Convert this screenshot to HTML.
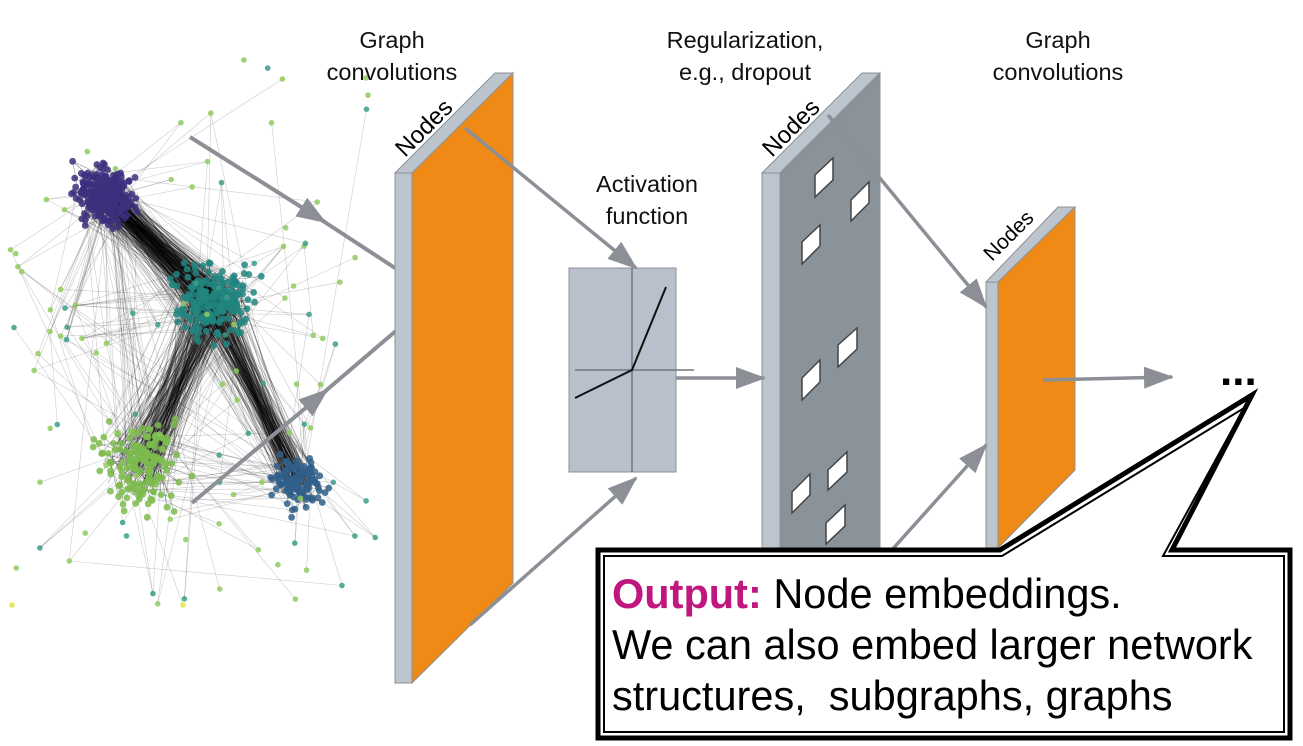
<!DOCTYPE html>
<html><head><meta charset="utf-8"><style>
html,body{margin:0;padding:0;background:#fff;}
body{width:1303px;height:746px;position:relative;overflow:hidden;font-family:"Liberation Sans",sans-serif;}
.t{position:absolute;font-size:23.5px;color:#111;text-align:center;line-height:32px;}
</style></head><body>
<svg id="s" width="1303" height="746" style="position:absolute;left:0;top:0">
<g id="net"></g>
<defs>
<marker id="ah2" markerWidth="30" markerHeight="22" refX="28" refY="11" orient="auto" markerUnits="userSpaceOnUse"><path d="M0,0 L30,11 L0,22 z" fill="#8c9096"/></marker></defs>
<g stroke="#8c9096" stroke-width="4" fill="none">
<line x1="190" y1="137" x2="325" y2="222" marker-end="url(#ah2)"/><line x1="320" y1="219" x2="395" y2="268"/>
<line x1="192" y1="503" x2="327" y2="390" marker-end="url(#ah2)"/><line x1="322" y1="394" x2="397" y2="330"/>
</g>
<polygon points="395,173 495,73 513,73 412,173" fill="#bcc4ce" stroke="#8c9096" stroke-width="1"/>
<polygon points="395,173 412,173 412,683 395,683" fill="#bcc4ce" stroke="#8c9096" stroke-width="1"/>
<polygon points="412,173 513,73 513,583 412,683" fill="#ef8a17" stroke="#8c9096" stroke-width="1"/>
<text x="0" y="0" font-size="24" transform="translate(405,158) rotate(-45)" font-family="Liberation Sans">Nodes</text>
<polygon points="762,173 862,73 880,73 780,173" fill="#bcc4ce" stroke="#8c9096"/>
<polygon points="762,173 780,173 780,600 762,600" fill="#bcc4ce" stroke="#8c9096"/>
<polygon points="780,173 880,73 880,600 780,600" fill="#8a9399" stroke="#8c9096"/>
<text transform="translate(772,158) rotate(-45)" font-size="24" font-family="Liberation Sans">Nodes</text>
<g fill="#fff" stroke="#444" stroke-width="1.5">
<polygon points="815,175 833,158 833,180 815,197"/>
<polygon points="851,200 869,182 869,203 851,221"/>
<polygon points="802,242 820,225 820,246 802,264"/>
<polygon points="838,345 857,328 857,349 838,367"/>
<polygon points="802,378 820,360 820,382 802,400"/>
<polygon points="828,470 847,452 847,472 828,490"/>
<polygon points="792,492 810,474 810,495 792,513"/>
<polygon points="826,523 845,505 845,526 826,544"/>
</g>
<polygon points="986,282 1058,207 1075,207 998,282" fill="#bcc4ce" stroke="#8c9096"/>
<polygon points="986,282 998,282 998,548 986,548" fill="#bcc4ce" stroke="#8c9096"/>
<polygon points="998,282 1075,207 1075,470 998,548" fill="#ef8a17" stroke="#8c9096"/>
<text transform="translate(992,262) rotate(-45)" font-size="21" font-family="Liberation Sans">Nodes</text>
<rect x="569" y="268" width="107" height="204" fill="#b8c0cc" stroke="#8c9096"/>
<line x1="632" y1="268" x2="632" y2="472" stroke="#6f7780" stroke-width="1.5"/>
<line x1="575" y1="370" x2="694" y2="370" stroke="#6f7780" stroke-width="1.5"/>
<polyline points="575,398 632,370 666,287" fill="none" stroke="#111" stroke-width="2"/>
<g stroke="#8c9096" stroke-width="3.5" fill="none">
<line x1="465" y1="128" x2="636" y2="268" marker-end="url(#ah2)"/>
<line x1="470" y1="625" x2="636" y2="478" marker-end="url(#ah2)"/>
<line x1="676" y1="378" x2="764" y2="378" marker-end="url(#ah2)"/>
<line x1="828" y1="115" x2="986" y2="307" marker-end="url(#ah2)"/>
<line x1="890" y1="552" x2="986" y2="445" marker-end="url(#ah2)"/>
<line x1="1043" y1="380" x2="1172" y2="377" marker-end="url(#ah2)"/>
</g>
<text x="1220" y="385" font-size="44" font-weight="bold" font-family="Liberation Sans">...</text>
<polygon points="598,550 1000,550 1252,395 1172,550 1290,550 1290,738 598,738" fill="#fff" stroke="#000" stroke-width="5"/>
<polygon points="604,556 1002,556 1244,408 1163,556 1284,556 1284,732 604,732" fill="none" stroke="#000" stroke-width="2"/>
</svg>
<div class="t" style="left:292px;top:24px;width:200px">Graph<br>convolutions</div>
<div class="t" style="left:620px;top:24px;width:250px">Regularization,<br>e.g., dropout</div>
<div class="t" style="left:547px;top:168px;width:200px">Activation<br>function</div>
<div class="t" style="left:958px;top:24px;width:200px">Graph<br>convolutions</div>
<div style="position:absolute;left:612px;top:568px;font-size:41.5px;line-height:51px;color:#000;white-space:nowrap"><span style="color:#c0177f;font-weight:bold">Output:</span> Node embeddings.<br>We can also embed larger network<br>structures,&nbsp; subgraphs, graphs</div>
<script>
(function(){
var seed=7;function r(){seed=(seed*16807)%2147483647;return seed/2147483647;}
function g(){return (r()+r()+r()-1.5)/1.5;}
var cl=[{x:105,y:195,s:26,n:260,c:"#3d2f7e"},{x:212,y:300,s:36,n:220,c:"#21857f"},{x:140,y:465,s:40,n:160,c:"#7dbb4e"},{x:298,y:482,s:26,n:110,c:"#2f5f8a"}];
var nodes=[];
cl.forEach(function(c,i){for(var k=0;k<c.n;k++){nodes.push({x:c.x+g()*c.s*1.5,y:c.y+g()*c.s*1.5,c:c.c,k:i});}});
for(var k=0;k<110;k++){var x=10+r()*370,y=60+r()*550;if(x+y<200)continue;nodes.push({x:x,y:y,c:r()<0.6?"#8fca5e":"#3c9c8b",k:-1});}
nodes.push({x:12,y:605,c:"#e6e04a",k:-1});nodes.push({x:183,y:605,c:"#e6e04a",k:-1});
var h="";
for(var i=0;i<2000;i++){var a=nodes[Math.floor(r()*nodes.length)],b=nodes[Math.floor(r()*nodes.length)];
var d=Math.hypot(a.x-b.x,a.y-b.y);var same=a.k==b.k&&a.k>=0;
if(!same&&d>170&&r()<0.8)continue;
if(!same&&a.k>=0&&b.k>=0&&r()<0.6)continue;
var op=same?0.4:0.2;
h+='<line x1="'+a.x.toFixed(1)+'" y1="'+a.y.toFixed(1)+'" x2="'+b.x.toFixed(1)+'" y2="'+b.y.toFixed(1)+'" stroke="#000" stroke-opacity="'+op+'" stroke-width="0.6"/>';}
var pairs=[[0,1,200,1.0],[1,3,140,0.9],[1,2,140,1.1]];
pairs.forEach(function(p){var A=cl[p[0]],B=cl[p[1]];for(var i=0;i<p[2];i++){h+='<line x1="'+(A.x+g()*A.s*p[3])+'" y1="'+(A.y+g()*A.s*p[3])+'" x2="'+(B.x+g()*B.s*p[3])+'" y2="'+(B.y+g()*B.s*p[3])+'" stroke="#000" stroke-opacity="0.3" stroke-width="0.7"/>';}});
nodes.forEach(function(n){h+='<circle cx="'+n.x.toFixed(1)+'" cy="'+n.y.toFixed(1)+'" r="'+(n.k>=0?3.4:2.8)+'" fill="'+n.c+'" fill-opacity="0.85"/>';});
document.getElementById("net").innerHTML=h;
})();
</script>
</body></html>
